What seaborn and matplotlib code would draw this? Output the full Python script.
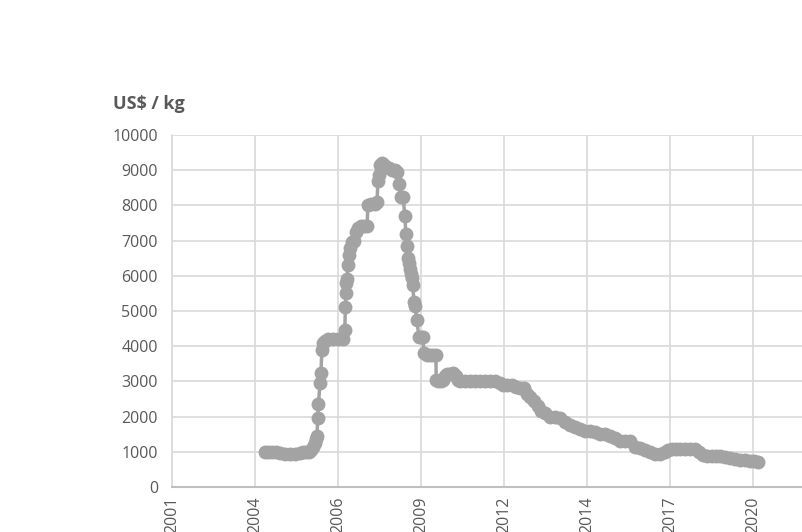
import matplotlib
matplotlib.use("Agg")
import matplotlib.pyplot as plt
import seaborn as sns

# price series (decimal year, US$/kg)
years = [2004.47, 2004.57, 2004.69, 2004.82, 2004.95, 2005.11, 2005.27, 2005.43, 2005.59, 2005.68,
         2005.78, 2005.87, 2005.94, 2006.00, 2006.07, 2006.10, 2006.13, 2006.16, 2006.18, 2006.23,
         2006.26, 2006.29, 2006.32, 2006.39, 2006.48, 2006.64, 2006.80, 2006.96, 2007.02, 2007.04,
         2007.06, 2007.07, 2007.09, 2007.12, 2007.15, 2007.18, 2007.25, 2007.31, 2007.37, 2007.44,
         2007.53, 2007.63, 2007.73, 2007.76, 2007.85, 2007.98, 2008.05, 2008.08, 2008.11, 2008.14,
         2008.20, 2008.27, 2008.33, 2008.43, 2008.52, 2008.62, 2008.68, 2008.75, 2008.81, 2008.88,
         2008.94, 2008.97, 2009.00, 2009.04, 2009.07, 2009.10, 2009.13, 2009.16, 2009.19, 2009.23,
         2009.26, 2009.32, 2009.39, 2009.45, 2009.51, 2009.55, 2009.64, 2009.74, 2009.83, 2009.93,
         2009.94, 2009.99, 2010.09, 2010.15, 2010.22, 2010.28, 2010.38, 2010.47, 2010.57, 2010.63,
         2010.70, 2010.85, 2011.01, 2011.17, 2011.33, 2011.49, 2011.65, 2011.81, 2011.97, 2012.07,
         2012.20, 2012.36, 2012.48, 2012.61, 2012.74, 2012.83, 2012.93, 2013.06, 2013.19, 2013.28,
         2013.41, 2013.57, 2013.73, 2013.89, 2014.05, 2014.21, 2014.37, 2014.53, 2014.69, 2014.85,
         2015.01, 2015.17, 2015.32, 2015.48, 2015.64, 2015.80, 2015.96, 2016.12, 2016.28, 2016.44,
         2016.60, 2016.76, 2016.92, 2017.08, 2017.24, 2017.34, 2017.46, 2017.59, 2017.72, 2017.88,
         2018.04, 2018.20, 2018.33, 2018.45, 2018.58, 2018.74, 2018.87, 2019.00, 2019.16, 2019.32,
         2019.48, 2019.64, 2019.80, 2019.96, 2020.08, 2020.21]
prices = [1000, 1000, 1000, 990, 960, 950, 950, 950, 960, 980,
          1000, 1000, 1050, 1150, 1250, 1350, 1450, 1950, 2350, 2950,
          3250, 3900, 4100, 4150, 4200, 4200, 4200, 4200, 4450, 5100,
          5500, 5800, 5900, 6300, 6600, 6800, 6950, 7000, 7250, 7350,
          7400, 7400, 7400, 8000, 8050, 8050, 8100, 8700, 8850, 9150,
          9200, 9150, 9100, 9050, 9000, 9000, 8950, 8600, 8250, 8250,
          7700, 7200, 6850, 6500, 6350, 6200, 6050, 5950, 5750, 5250,
          5150, 4750, 4250, 4250, 4250, 3800, 3750, 3750, 3750, 3750,
          3050, 3000, 3000, 3050, 3150, 3200, 3200, 3250, 3150, 3050,
          3000, 3000, 3000, 3000, 3000, 3000, 3000, 3000, 2950, 2900,
          2900, 2900, 2850, 2800, 2800, 2650, 2550, 2450, 2300, 2150,
          2100, 2000, 2000, 1950, 1850, 1750, 1700, 1650, 1600, 1600,
          1550, 1500, 1500, 1450, 1400, 1300, 1300, 1300, 1150, 1100,
          1050, 1000, 950, 950, 1000, 1050, 1080, 1080, 1080, 1080,
          1080, 1080, 1000, 900, 880, 880, 870, 870, 850, 830,
          800, 780, 760, 750, 730, 700]

# Excel-style date axis: a label every ~2.65 years
tick_pos = [2001.5, 2004.15, 2006.8, 2009.45, 2012.1, 2014.75, 2017.4, 2020.05]
tick_labels = ["2001", "2004", "2006", "2009", "2012", "2014", "2017", "2020"]
y_ticks = [0, 1000, 2000, 3000, 4000, 5000, 6000, 7000, 8000, 9000, 10000]

sns.set_style("white")
plt.rcParams["font.family"] = ["Open Sans", "DejaVu Sans"]

fig = plt.figure(figsize=(8.03, 5.32), dpi=100)
ax = fig.add_axes([0.214, 0.0846, 0.786, 0.6617])

sns.lineplot(x=years, y=prices, ax=ax, color="#a3a3a3", linewidth=2.5,
             marker="o", markersize=10, markeredgewidth=0, sort=False)

ax.set_xlim(2001.5, 2021.65)
ax.set_ylim(0, 10000)
ax.set_xticks(tick_pos)
ax.set_xticklabels(tick_labels, rotation=90)
ax.set_yticks(y_ticks)
ax.grid(True, color="#d9d9d9", linewidth=1.2)
ax.set_axisbelow(True)
ax.tick_params(axis="both", length=0, labelsize=11.5, labelcolor="#595959")
ax.tick_params(axis="y", pad=10)
ax.tick_params(axis="x", pad=7)

for side in ["top", "right"]:
    ax.spines[side].set_visible(False)
ax.spines["left"].set_color("#d9d9d9")
ax.spines["left"].set_linewidth(1.2)
ax.spines["bottom"].set_color("#bfbfbf")
ax.spines["bottom"].set_linewidth(1.5)

fig.text(0.141, 0.795, "US$ / kg", fontsize=13, fontweight="bold", color="#595959")

fig.savefig("out.png", dpi=100)
